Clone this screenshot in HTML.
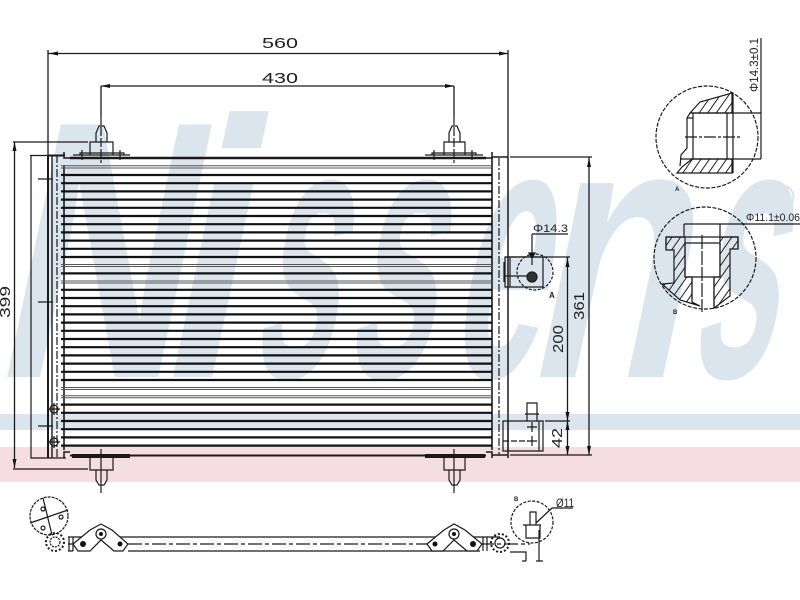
<!DOCTYPE html>
<html><head><meta charset="utf-8"><style>html,body{margin:0;padding:0;background:#fff}svg{display:block}text{font-family:"Liberation Sans",sans-serif;fill:#222}.w{font-size:367px;font-weight:bold;fill:#dbe5ee}</style></head>
<body>
<svg width="800" height="600" viewBox="0 0 800 600" xmlns="http://www.w3.org/2000/svg">
<defs>
<pattern id="h" width="7" height="7" patternUnits="userSpaceOnUse" patternTransform="rotate(35)"><rect width="1" height="7" fill="#222"/></pattern>
</defs>
<rect width="800" height="600" fill="#fff"/>
<rect y="414" width="800" height="16" fill="#dbe5ee"/>
<rect y="447" width="800" height="35" fill="#f5dde2"/>
<text class="w" transform="translate(-10,377) skewX(-12) scale(.70,1)">N</text>
<text class="w" transform="translate(153,377) skewX(-12) scale(.78,1)">i</text>
<text class="w" transform="translate(248,377) skewX(-12) scale(.40,1)">s</text>
<text class="w" transform="translate(342,377) skewX(-12) scale(.42,1)">s</text>
<text class="w" transform="translate(445,377) skewX(-12) scale(.44,1)">e</text>
<text class="w" transform="translate(522,377) skewX(-12) scale(.70,1)">n</text>
<text class="w" transform="translate(686,377) skewX(-12) scale(.41,1)">s</text>
<circle cx="782" cy="197" r="11.500" fill="none" stroke="#dbe5ee" stroke-width="2"/>
<text x="776" y="203" font-size="16" style="fill:#dbe5ee">R</text>

<g fill="none" stroke="#1a1a1a" stroke-width="1.2">
<!-- dimensions -->
<path d="M48 50V156M508 50V156M48 53.5H508M101 86V116M454 86V116M101 86H454" stroke-width="1.3"/>
<path d="M14.5 142V468M13 142H88M13 469H88M510 157H592M589 157V455M510 455H592M505 257H570M567.5 257V455M545 421H570" stroke-width="1.3"/>
<!-- left tank -->
<path d="M30 155.500H48M31 155V458H66"/>
<path d="M48 155V458" stroke-width="2"/>
<path d="M52 155V458" stroke-width="1.400"/>
<path d="M48 155.500H65" stroke-width="2"/>
<path d="M57 155V458" stroke-dasharray="8 2 2 2"/>
<path d="M38 179H53M38 302H53M38 426H53"/>
<circle cx="54" cy="409" r="4"/>
<circle cx="54" cy="442" r="4"/>
<path d="M48 409H60M54 403V415M48 442H60M54 436V448"/>
<!-- core -->
<path d="M64 165V450M492 158V450" stroke-width="1.6"/>
<path d="M70 158H486" stroke-width="2.5"/>
<path d="M70 455.500H486" stroke-width="2"/>
<path d="M64 152V158H70M492 152V158H486M64 458V452H70M492 458V452H486" stroke-width="1.500"/>
<!-- right tank -->
<path d="M492 157H508M492 455H508M508 156V458" stroke-width="1.500"/>
<path d="M499 158V455" stroke-dasharray="8 2 2 2"/>
</g>
<!-- fins -->
<path d="M61 175H492M61 183.200H492M61 191.400H492M61 199.600H492M61 207.800H492M61 216H492M61 224.200H492M61 232.400H492M61 240.600H492M61 248.800H492M61 257H492M61 273.400H492M61 289.800H492M61 298H492M61 306.200H492M61 314.400H492M61 322.600H492M61 330.800H492M61 339H492M61 347.200H492M61 355.400H492M61 363.600H492M61 371.800H492M61 380H492M61 404.600H492M61 412.800H492M61 421H492M61 429.200H492M61 437.400H492M61 445.600H492" stroke="#111" stroke-width="2.200" fill="none"/>
<path d="M61 165.800H492M61 168H492M61 264.500H492M61 266.500H492M61 281H492M61 283H492M61 387.500H492M61 389.500H492M61 395.800H492M61 397.800H492" stroke="#555" stroke-width="1" fill="none"/>
<g fill="none" stroke="#1a1a1a" stroke-width="1.200">
<!-- top mounts -->
<path d="M73 155H130M80 155V153H124V155M90 155V142H113V155M96 142V133L99 126H104L107 133V142M82 150V160M120 150V160"/>
<path d="M101 116V163" stroke-dasharray="9 2"/>
<path d="M425 155H483M432 155V153H476V155M444 155V142H465V155M449 142V133L452 126H457L460 133V142M434 150V160M472 150V160"/>
<path d="M454 116V163" stroke-dasharray="9 2"/>
<!-- bottom mounts -->
<path d="M90 458V470H113V458M96 470V480L99 485H104L107 480V470M101 449V493M444 458V470H465V458M449 470V480L452 485H457L460 480V470M454 449V493"/>
<path d="M72 456H130M425 456H485" stroke-width="4"/>
<!-- fitting top -->
<path d="M505 257H543V287H505ZM510 257V287M505 276H528M504 262V282"/>
<circle cx="535" cy="272" r="18" stroke-dasharray="3 1.500"/>
<circle cx="532" cy="277" r="5" fill="#333"/>
<path d="M532 234V265M532 234H568"/>
<path d="M532 258L529 253H535Z" fill="#111"/>
<!-- fitting bottom -->
<path d="M503 421H543V451H503ZM508 421V451M539 421V451M527 421V403H537V421M525 414H539M527 427H537M532 422V432M527 441H537M532 436V446"/>
<path d="M503 441H528" stroke-dasharray="6 2"/>
<!-- detail A -->
<circle cx="707" cy="137" r="51" stroke-dasharray="4 1.500"/>
<path d="M690 113L700 102L732 93V113ZM677 173L682 167L692 159H732V173Z" fill="url(#h)"/>
<path d="M693 113H727V159H693ZM733 93V173M727 113V159M761 38V159M727 113H761M727 159H761M690 113L687 118V148L681 155L680 166M687 118H693M680 159H692"/>
<path d="M685 137H742" stroke-dasharray="12 2 3 2"/>
<!-- detail B -->
<circle cx="705" cy="258" r="51" stroke-dasharray="4 1.500"/>
<path d="M666 237H685V277H692V302L700 306L680 300L662 284L674 283V250H666ZM720 237H738V249H730V296L714 308V277H720Z" fill="url(#h)"/>
<path d="M684 224V237M720 224V237M684 224H800M666 237H738M685 243H720M685 243V277H720V243M692 277V300M714 277V306M666 237V249M738 237V249"/>
<path d="M702 235V312" stroke-dasharray="14 2"/>
<!-- bottom view -->
<path d="M68 537H500M68 551H73M128 551H480M69 537V551M73 537V551M483 537V551M487 537V551"/>
<path d="M128 544H430M68 544H75M480 544H530" stroke-dasharray="14 3 4 3"/>
<path d="M73 544L90 530L101 524L112 530L128 544L123 551H114L101 540L90 551H78Z" fill="#fff"/>
<path d="M427 544L444 530L454 524L465 530L482 544L477 551H467L454 540L443 551H432Z" fill="#fff"/>
<circle cx="101" cy="534" r="5"/><circle cx="454" cy="534" r="5"/>
<circle cx="49" cy="516" r="19" stroke-dasharray="3 1"/>
<path d="M30 523L68 510M43 498L52 535"/>
<circle cx="43" cy="509" r="2"/><circle cx="61" cy="517" r="2"/><circle cx="43" cy="528" r="2"/>
<circle cx="55" cy="542" r="9" stroke-width="2" stroke-dasharray="2 2"/>
<circle cx="55" cy="542" r="5" stroke-dasharray="2 1"/>
<circle cx="500" cy="543" r="9" stroke-width="2" stroke-dasharray="2 2"/>
<circle cx="500" cy="543" r="5"/>
<circle cx="532" cy="522" r="21" stroke-dasharray="3 1.500"/>
<path d="M523 525H541M526 525V538H540V525M530 525V512H536V525M536 523L552 508H573"/>
<path d="M510 552H526V561M522 561H526M539 530V561M536 561H543"/>
</g>
<g fill="#111">
<circle cx="83" cy="544" r="3"/><circle cx="120" cy="544" r="2.500"/><circle cx="435" cy="544" r="2.500"/><circle cx="473" cy="544" r="3"/><circle cx="101" cy="534" r="2"/><circle cx="454" cy="534" r="2"/>
<path d="M49 53.500L58 51.500V55.500ZM508 53.500L499 51.500V55.500ZM101 86L110 84V88ZM454 86L445 84V88ZM14.500 142L12.500 151H16.500ZM14.500 468L12.500 459H16.500ZM589 158L587 167H591ZM589 455L587 446H591ZM567.500 258L565.500 267H569.500ZM567.500 455L565.500 446H569.500ZM567.500 421L565.500 412H569.500ZM567.500 421L565.500 430H569.500Z"/>
</g>
<!-- labels -->
<text x="262" y="48" font-size="15" textLength="36" lengthAdjust="spacingAndGlyphs">560</text>
<text x="262" y="83" font-size="15" textLength="36" lengthAdjust="spacingAndGlyphs">430</text>
<text transform="translate(10,318) rotate(-90)" font-size="15" textLength="32" lengthAdjust="spacingAndGlyphs">399</text>
<text transform="translate(584,320) rotate(-90)" font-size="15" textLength="28" lengthAdjust="spacingAndGlyphs">361</text>
<text transform="translate(563,353) rotate(-90)" font-size="15" textLength="28" lengthAdjust="spacingAndGlyphs">200</text>
<text transform="translate(562,448) rotate(-90)" font-size="15" textLength="20" lengthAdjust="spacingAndGlyphs">42</text>
<text x="533" y="232" font-size="11" textLength="35" lengthAdjust="spacingAndGlyphs">Φ14.3</text>
<text x="549" y="298" font-size="8" font-weight="bold">A</text>
<text x="556" y="507" font-size="12" textLength="18" lengthAdjust="spacingAndGlyphs">Ø11</text>
<text x="514" y="501" font-size="6" font-weight="bold">B</text>
<text transform="translate(758,92) rotate(-90)" font-size="12" textLength="54" lengthAdjust="spacingAndGlyphs">Φ14.3±0.1</text>
<text x="746" y="221" font-size="11" textLength="54" lengthAdjust="spacingAndGlyphs">Φ11.1±0.06</text>
<text x="675" y="191" font-size="6" font-weight="bold">A</text>
<text x="673" y="314" font-size="6" font-weight="bold">B</text>
</svg>
</body></html>
